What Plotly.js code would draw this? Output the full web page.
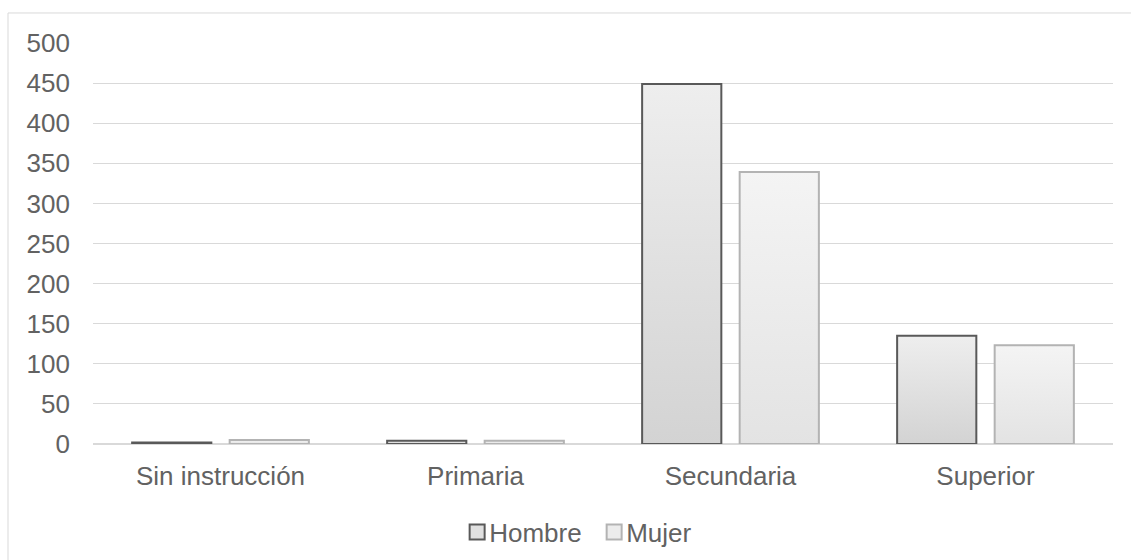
<!DOCTYPE html>
<html>
<head>
<meta charset="utf-8">
<script src="https://cdn.plot.ly/plotly-3.0.1.min.js"></script>
<style>html,body{margin:0;padding:0;background:#fff;}#chart{width:1131px;height:560px;}</style>
</head>
<body>
<div id="chart"></div>
<script>
const categories = ["Sin instrucción", "Primaria", "Secundaria", "Superior"];
const hombre = [2, 4, 449, 135];
const mujer = [5, 4, 339, 123];
const seriesNames = ["Hombre", "Mujer"];
const yTicks = [0, 50, 100, 150, 200, 250, 300, 350, 400, 450, 500];

const font = {family: "Liberation Sans, Arial, sans-serif", size: 26, color: "#626262"};

const traces = [
  {type: "bar", name: seriesNames[0], x: categories, y: hombre,
   marker: {color: "#e0e0e0", line: {color: "#595959", width: 2}}, hoverinfo: "skip"},
  {type: "bar", name: seriesNames[1], x: categories, y: mujer,
   marker: {color: "#ececec", line: {color: "#b3b3b3", width: 2}}, hoverinfo: "skip"}
];

const layout = {
  width: 1131, height: 560,
  margin: {l: 93, r: 18, t: 43, b: 116.3, autoexpand: false},
  paper_bgcolor: "#ffffff", plot_bgcolor: "#ffffff",
  font: font,
  barmode: "group", bargap: 0.235, bargroupgap: 0.188,
  showlegend: true,
  legend: {orientation: "h", x: 0.357, xanchor: "left", yref: "container", y: 0.05, yanchor: "middle",
           font: font, itemwidth: 30, entrywidth: 92, entrywidthmode: "pixels", traceorder: "normal"},
  xaxis: {type: "category", showgrid: false, showline: false, ticks: "", automargin: false,
          tickfont: font, ticklabelstandoff: 14, zeroline: false},
  yaxis: {range: [0, 500], tickvals: yTicks, showgrid: true, gridcolor: "#d9d9d9", gridwidth: 1,
          zeroline: true, zerolinecolor: "#d9d9d9", zerolinewidth: 1.5, showline: false, ticks: "",
          automargin: false, tickfont: font, ticklabelstandoff: 22},
  shapes: [{type: "rect", xref: "paper", yref: "paper",
            x0: (8 - 93) / 1020, x1: 1.2, y0: -0.5, y1: (443.7 - 13) / 400.7,
            line: {color: "#d9d9d9", width: 1}, fillcolor: "rgba(0,0,0,0)", layer: "below"}]
};

function applyGradients(gd) {
  const svg = gd.querySelector("svg.main-svg");
  if (!svg) return;
  const ns = "http://www.w3.org/2000/svg";
  let defs = svg.querySelector("defs#customgrad");
  if (!defs) {
    defs = document.createElementNS(ns, "defs");
    defs.setAttribute("id", "customgrad");
    const grads = [["gH", "#eeeeee", "#d3d3d3"], ["gM", "#f4f4f4", "#e3e3e3"]];
    grads.forEach(g => {
      const lg = document.createElementNS(ns, "linearGradient");
      lg.setAttribute("id", g[0]);
      lg.setAttribute("x1", "0"); lg.setAttribute("y1", "0");
      lg.setAttribute("x2", "0"); lg.setAttribute("y2", "1");
      [[0, g[1]], [1, g[2]]].forEach(s => {
        const st = document.createElementNS(ns, "stop");
        st.setAttribute("offset", s[0]);
        st.setAttribute("stop-color", s[1]);
        lg.appendChild(st);
      });
      defs.appendChild(lg);
    });
    svg.insertBefore(defs, svg.firstChild);
  }
  const bars = gd.querySelectorAll(".barlayer .trace");
  bars.forEach((t, i) => {
    t.querySelectorAll(".point path").forEach(p => {
      p.style.fill = "url(#" + (i === 0 ? "gH" : "gM") + ")";
    });
  });
  gd.querySelectorAll(".legend .legendpoints .legendbar path, .legend .legendpoints path.legendundefined").forEach(p => {
    p.setAttribute("d", "M7.5,7.5H-7.5V-7.5H7.5Z");
  });
  gd.querySelectorAll(".legend .legendtext").forEach(t => {
    t.setAttribute("transform", "translate(-8,0)");
  });
}

Plotly.newPlot("chart", traces, layout, {displayModeBar: false, staticPlot: true}).then(gd => {
  applyGradients(gd);
  gd.on("plotly_afterplot", () => applyGradients(gd));
});
</script>
</body>
</html>
